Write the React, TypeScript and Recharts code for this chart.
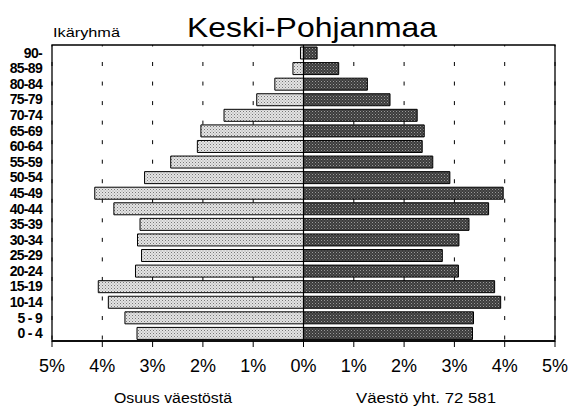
import { BarChart, Bar, XAxis, YAxis, CartesianGrid, ReferenceLine, ReferenceArea } from 'recharts';

const ages = ['90-', '85-89', '80-84', '75-79', '70-74', '65-69', '60-64', '55-59', '50-54', '45-49', '40-44', '35-39', '30-34', '25-29', '20-24', '15-19', '10-14', '5 - 9', '0 - 4'];
const leftShare = [0.06, 0.21, 0.57, 0.93, 1.58, 2.04, 2.11, 2.64, 3.16, 4.15, 3.77, 3.25, 3.3, 3.22, 3.34, 4.08, 3.88, 3.55, 3.31];
const rightShare = [0.27, 0.7, 1.27, 1.72, 2.26, 2.4, 2.36, 2.57, 2.91, 3.97, 3.68, 3.29, 3.09, 2.76, 3.08, 3.8, 3.92, 3.38, 3.36];
const xTicks = [-5, -4, -3, -2, -1, 0, 1, 2, 3, 4, 5];

const FONT = '"Liberation Sans", Arial, Helvetica, sans-serif';

const data = ages.map((age, i) => ({ age, left: -leftShare[i], right: rightShare[i] }));

export default function App() {
  return (
    <div style={{ position: 'absolute', left: 0, top: 0, width: 572, height: 407, background: '#fff' }}>
      <svg width={0} height={0} style={{ position: 'absolute' }}>
        <defs>
          <pattern id="lightDots" width={3} height={3} patternUnits="userSpaceOnUse">
            <rect width={3} height={3} fill="#e4e4e4" />
            <rect width={1} height={1} fill="#777" />
            <rect x={1.5} y={1.5} width={1} height={1} fill="#999" />
          </pattern>
          <pattern id="darkDots" width={3} height={3} patternUnits="userSpaceOnUse">
            <rect width={3} height={3} fill="#3c3c3c" />
            <rect width={1} height={1} fill="#9a9a9a" />
            <rect x={1.5} y={1.5} width={1} height={1} fill="#777" />
          </pattern>
        </defs>
      </svg>

      <BarChart
        width={572}
        height={407}
        data={data}
        layout="vertical"
        stackOffset="sign"
        barSize={12}
        margin={{ top: 45, right: 17, bottom: 0, left: 0 }}
      >
        <CartesianGrid horizontal={false} stroke="#000" strokeDasharray="4 15.54" strokeDashoffset={2.54} />
        <XAxis
          type="number"
          domain={[-5, 5]}
          ticks={xTicks}
          interval={0}
          height={66}
          tickFormatter={(v: number) => `${Math.abs(v)}%`}
          axisLine={{ stroke: '#000', strokeWidth: 1.5 }}
          tickLine={{ stroke: '#000' }}
          tickSize={6}
          tickMargin={12}
          tick={{ fill: '#000', fontSize: 18, fontFamily: FONT }}
        />
        <YAxis
          type="category"
          dataKey="age"
          width={52}
          interval={0}
          axisLine={false}
          tickLine={false}
          tickMargin={4}
          tick={{ fill: '#000', fontSize: 14, fontWeight: 'bold', fontFamily: FONT, letterSpacing: -0.7 }}
        />
        <ReferenceArea x1={-5} x2={5} fill="none" stroke="#000" strokeWidth={1.3} />
        <Bar dataKey="left" stackId="a" fill="url(#lightDots)" stroke="#000" strokeWidth={1} isAnimationActive={false} />
        <Bar dataKey="right" stackId="a" fill="url(#darkDots)" stroke="#000" strokeWidth={1} isAnimationActive={false} />
        <ReferenceLine x={0} stroke="#000" strokeWidth={1.2} />
      </BarChart>

      <svg width={572} height={407} style={{ position: 'absolute', left: 0, top: 0, pointerEvents: 'none' }}>
        <text x={187} y={37} fontSize={28} fontFamily={FONT} fill="#000" textLength={250} lengthAdjust="spacingAndGlyphs">
          Keski-Pohjanmaa
        </text>
        <text x={53} y={37} fontSize={13} fontFamily={FONT} fill="#000" textLength={67} lengthAdjust="spacingAndGlyphs">
          Ikäryhmä
        </text>
        <text x={114} y={403} fontSize={14} fontFamily={FONT} fill="#000" textLength={118} lengthAdjust="spacingAndGlyphs">
          Osuus väestöstä
        </text>
        <text x={356} y={403} fontSize={14} fontFamily={FONT} fill="#000" textLength={140} lengthAdjust="spacingAndGlyphs">
          Väestö yht. 72 581
        </text>
      </svg>
    </div>
  );
}
